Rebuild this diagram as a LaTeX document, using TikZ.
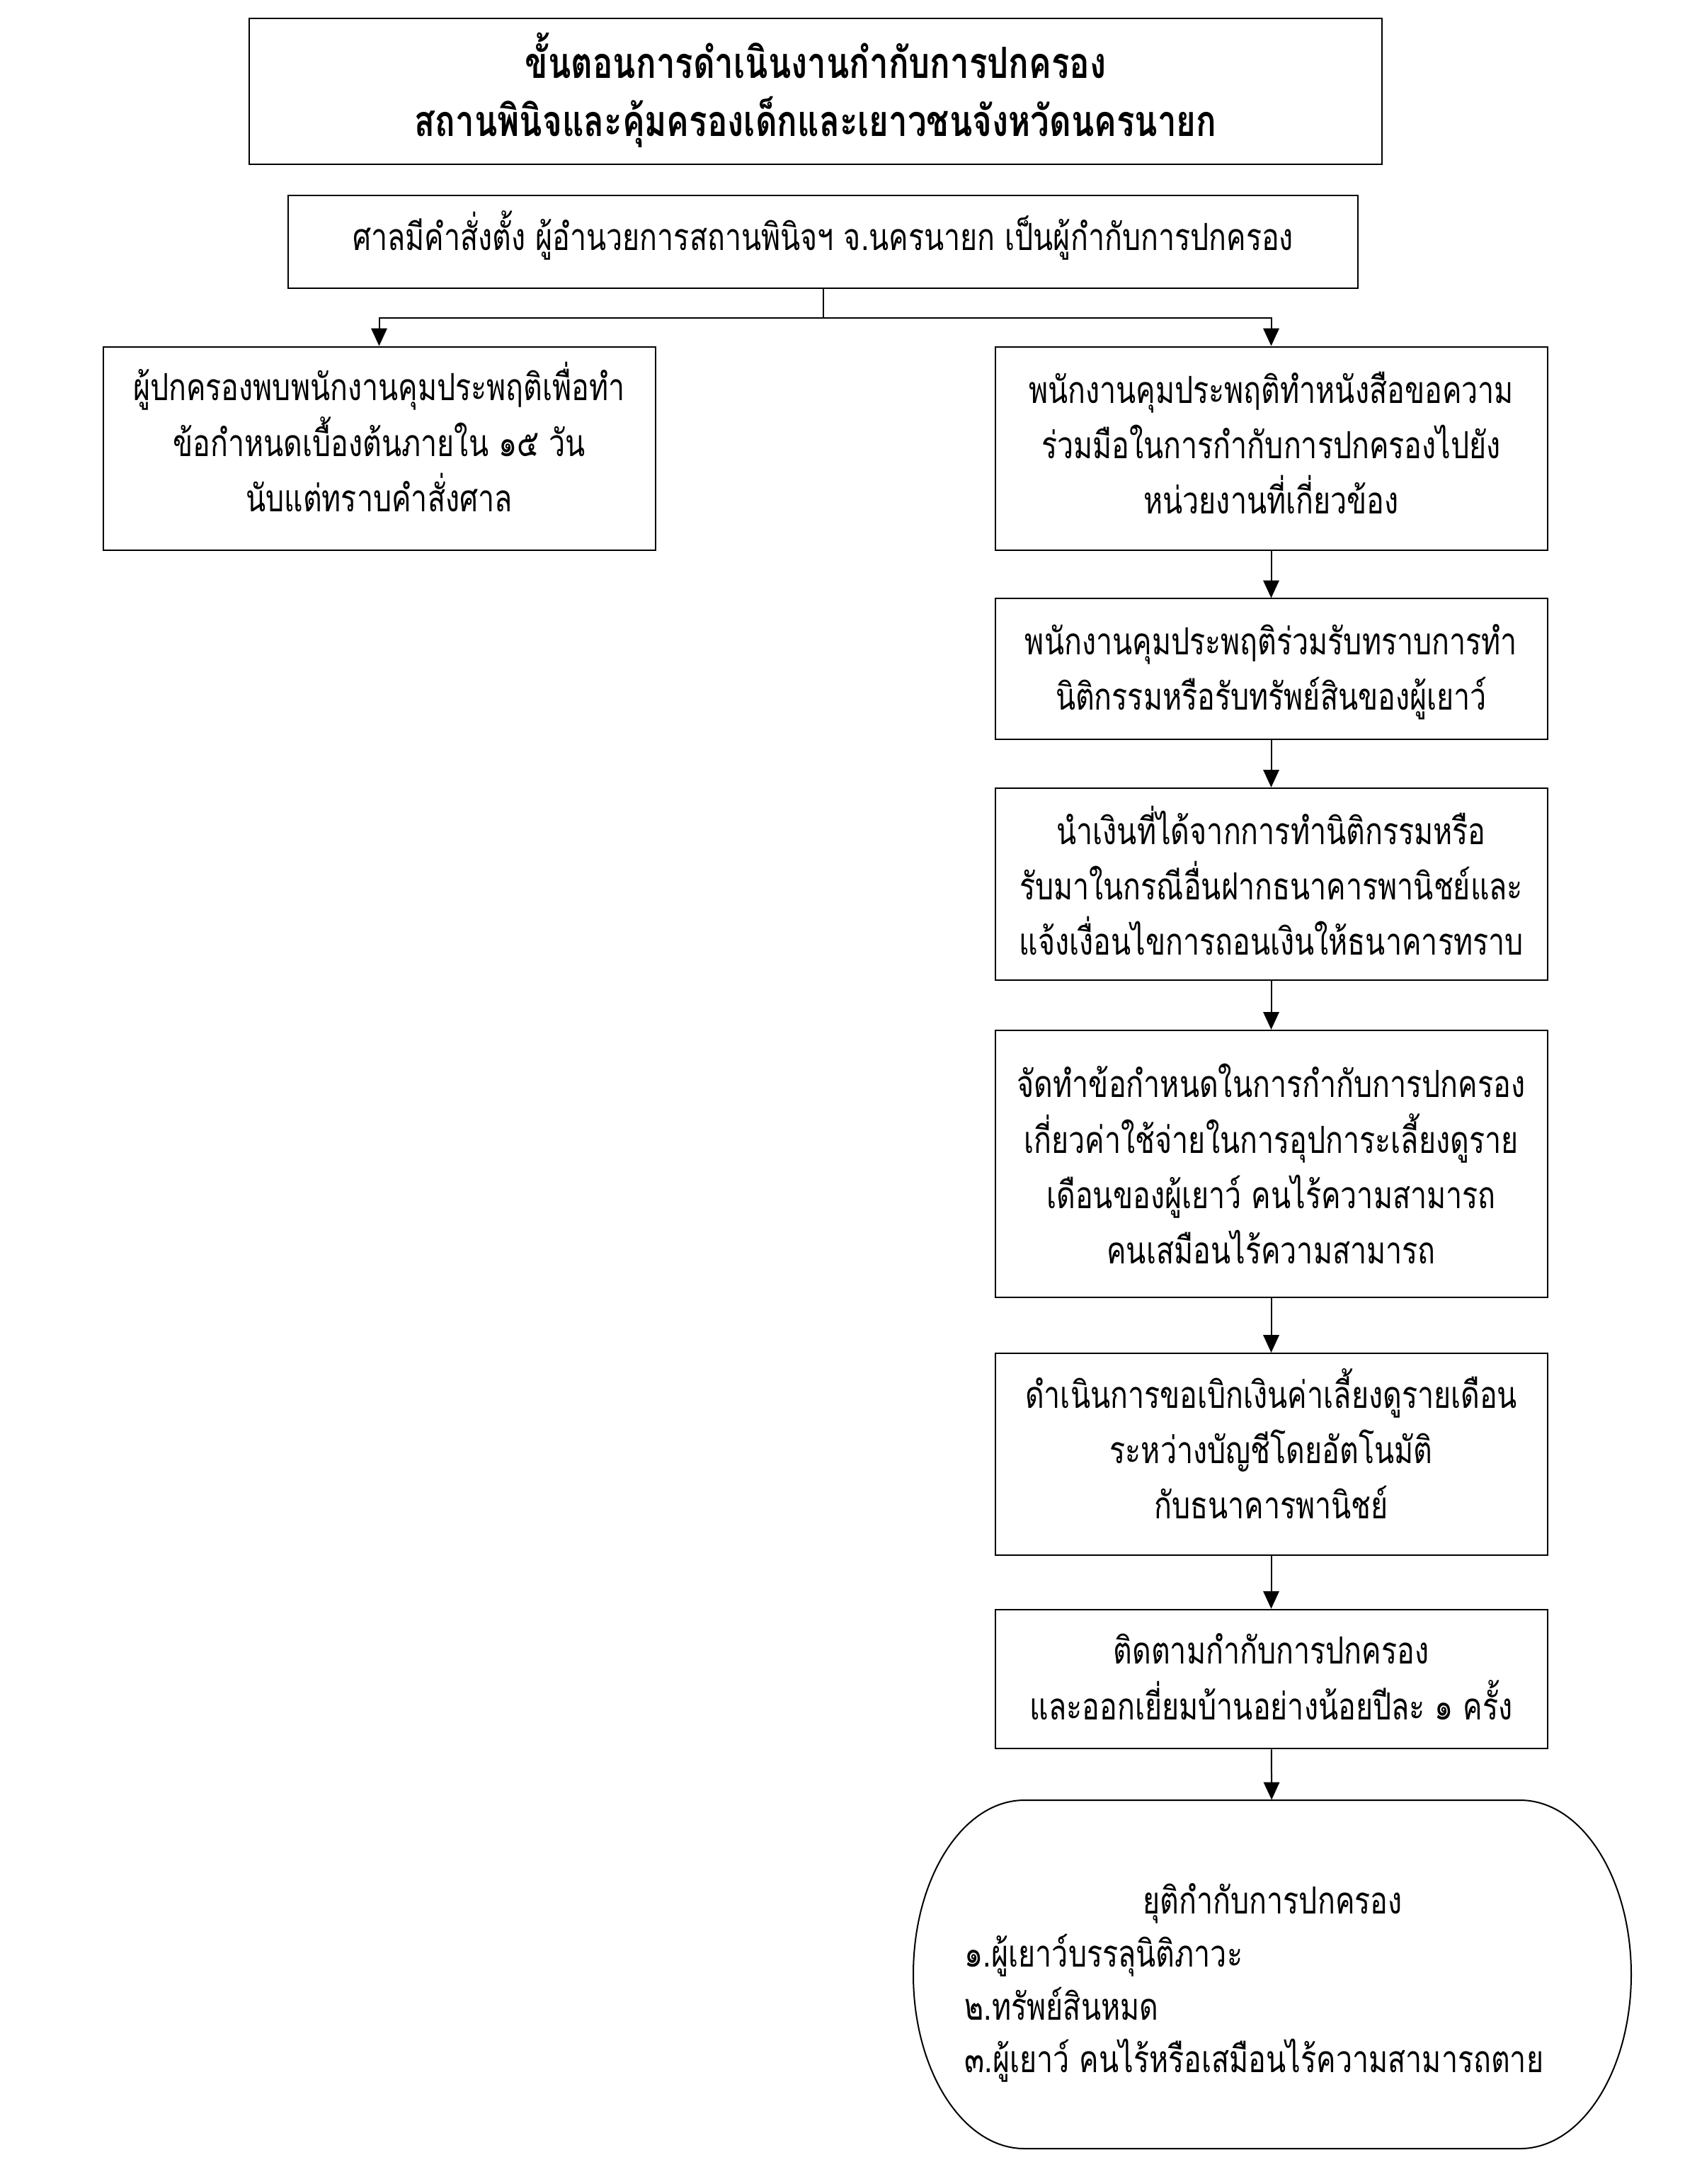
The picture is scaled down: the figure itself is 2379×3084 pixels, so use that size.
\documentclass[tikz,border=0pt]{standalone}
\usepackage{fontspec}
\setmainfont[Script=Thai,FakeStretch=0.78]{Loma}
\def\bodysize{13.2}\def\titlesize{15.2}
\newcommand\mylines[2]{\raisebox{#1}[\height][\depth]{\begin{tabular}{@{}c@{}}#2\end{tabular}}}
\usetikzlibrary{arrows.meta}
\begin{document}
\begin{tikzpicture}[x=0.25pt,y=-0.25pt,
  box/.style={draw,line width=0.5pt,inner sep=0pt,
    font=\fontsize{\bodysize}{19.5}\selectfont},
  flow/.style={line width=0.5pt,-{Triangle[length=6.2pt,width=5.6pt]}},
  plain/.style={line width=0.5pt}]
\useasboundingbox (0,0) rectangle (2379,3084);
\node[box,minimum width=400pt,minimum height=51.5pt,
  font=\fontsize{\titlesize}{20.5}\selectfont\bfseries] (title) at (1152,129)
  {\mylines{-0.6pt}{ขั้นตอนการดำเนินงานกำกับการปกครอง\\สถานพินิจและคุ้มครองเด็กและเยาวชนจังหวัดนครนายก}};
\node[box,minimum width=377.75pt,minimum height=32.75pt] (court) at (1162.5,341.5)
  {\mylines{1.0pt}{ศาลมีคำสั่งตั้ง ผู้อำนวยการสถานพินิจฯ จ.นครนายก เป็นผู้กำกับการปกครอง}};
\node[box,minimum width=195pt,minimum height=71.75pt] (guard) at (535.5,633)
  {\mylines{1.1pt}{ผู้ปกครองพบพนักงานคุมประพฤติเพื่อทำ\\ข้อกำหนดเบื้องต้นภายใน ๑๕ วัน\\นับแต่ทราบคำสั่งศาล}};
\node[box,minimum width=195pt,minimum height=71.75pt] (sa) at (1795.5,633)
  {\mylines{0.2pt}{พนักงานคุมประพฤติทำหนังสือขอความ\\ร่วมมือในการกำกับการปกครองไปยัง\\หน่วยงานที่เกี่ยวข้อง}};
\node[box,minimum width=195pt,minimum height=49.65pt] (sb) at (1795.5,944.7)
  {\mylines{-0.9pt}{พนักงานคุมประพฤติร่วมรับทราบการทำ\\นิติกรรมหรือรับทรัพย์สินของผู้เยาว์}};
\node[box,minimum width=195pt,minimum height=67.8pt] (sc) at (1795.5,1248.4)
  {\mylines{-1.7pt}{นำเงินที่ได้จากการทำนิติกรรมหรือ\\รับมาในกรณีอื่นฝากธนาคารพานิชย์และ\\แจ้งเงื่อนไขการถอนเงินให้ธนาคารทราบ}};
\node[box,minimum width=195pt,minimum height=94.4pt] (sd) at (1795.5,1643.6)
  {\mylines{-1.9pt}{จัดทำข้อกำหนดในการกำกับการปกครอง\\เกี่ยวค่าใช้จ่ายในการอุปการะเลี้ยงดูราย\\เดือนของผู้เยาว์ คนไร้ความสามารถ\\คนเสมือนไร้ความสามารถ}};
\node[box,minimum width=195pt,minimum height=71.25pt] (se) at (1795.5,2053.5)
  {\mylines{0.85pt}{ดำเนินการขอเบิกเงินค่าเลี้ยงดูรายเดือน\\ระหว่างบัญชีโดยอัตโนมัติ\\กับธนาคารพานิชย์}};
\node[box,minimum width=195pt,minimum height=49.15pt] (sf) at (1795.5,2371)
  {\mylines{-0.6pt}{ติดตามกำกับการปกครอง\\และออกเยี่ยมบ้านอย่างน้อยปีละ ๑ ครั้ง}};
% terminal shape
\node[minimum width=253.5pt,minimum height=122.9pt,inner sep=0pt] (oval) at (1797,2788) {};
\draw[plain] (1447,2542) -- (2147,2542)
  .. controls (2234,2542) and (2304,2652) .. (2304,2788)
  .. controls (2304,2924) and (2234,3034) .. (2147,3034)
  -- (1447,3034)
  .. controls (1360,3034) and (1290,2924) .. (1290,2788)
  .. controls (1290,2652) and (1360,2542) .. (1447,2542) -- cycle;
\node[align=left,anchor=west,inner sep=0pt,font=\fontsize{\bodysize}{18.7}\selectfont] (ovaltext) at (1362,2800)
  {\hspace*{63pt}ยุติกำกับการปกครอง\\๑.ผู้เยาว์บรรลุนิติภาวะ\\๒.ทรัพย์สินหมด\\๓.ผู้เยาว์ คนไร้หรือเสมือนไร้ความสามารถตาย};
% connectors
\draw[plain] (court.south) -- ++(0,41) coordinate (split);
\draw[flow] (split) -| (guard.north);
\draw[flow] (split) -| (sa.north);
\draw[flow] (sa) -- (sb);
\draw[flow] (sb) -- (sc);
\draw[flow] (sc) -- (sd);
\draw[flow] (sd) -- (se);
\draw[flow] (se) -- (sf);
\draw[flow] (sf) -- (oval);
\end{tikzpicture}
\end{document}
